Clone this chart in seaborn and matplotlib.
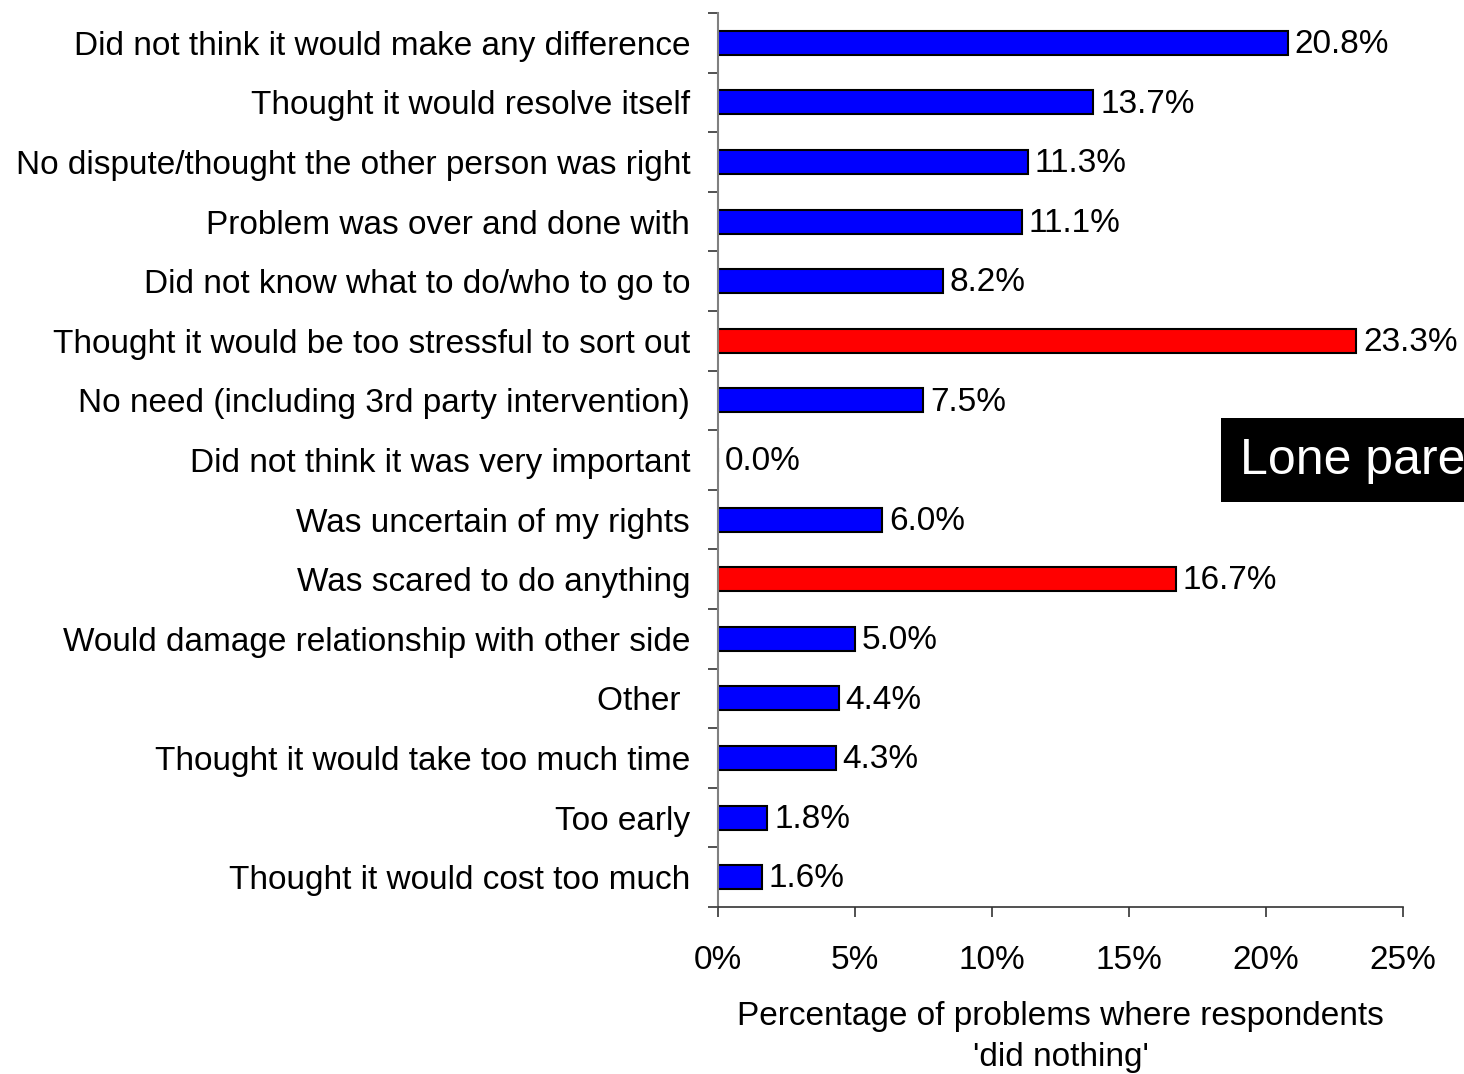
import matplotlib
matplotlib.use("Agg")
import matplotlib.pyplot as plt
import matplotlib.ticker as mticker
from matplotlib.patches import Rectangle
import numpy as np
import pandas as pd
import seaborn as sns

categories = [
    "Did not think it would make any difference",
    "Thought it would resolve itself",
    "No dispute/thought the other person was right",
    "Problem was over and done with",
    "Did not know what to do/who to go to",
    "Thought it would be too stressful to sort out",
    "No need (including 3rd party intervention)",
    "Did not think it was very important",
    "Was uncertain of my rights",
    "Was scared to do anything",
    "Would damage relationship with other side",
    "Other ",
    "Thought it would take too much time",
    "Too early",
    "Thought it would cost too much",
]
values = [20.8, 13.7, 11.3, 11.1, 8.2, 23.3, 7.5, 0.0, 6.0, 16.7, 5.0, 4.4, 4.3, 1.8, 1.6]
highlight = [False, False, False, False, False, True, False, False, False, True,
             False, False, False, False, False]
x_ticks = [0, 5, 10, 15, 20, 25]

sns.set_theme(style="white")
plt.rcParams["font.family"] = ["Liberation Sans", "DejaVu Sans"]
plt.rcParams["text.color"] = "black"
plt.rcParams["axes.labelcolor"] = "black"
plt.rcParams["xtick.color"] = "black"
plt.rcParams["ytick.color"] = "black"

df = pd.DataFrame({"reason": categories, "pct": values})
palette = {c: ("#FF0000" if h else "#0000FF") for c, h in zip(categories, highlight)}

fig = plt.figure(figsize=(14.64, 10.74), dpi=100)
ax = fig.add_axes([0.4904, 0.1555, 0.4679, 0.8324])

sns.barplot(data=df, x="pct", y="reason", hue="reason", palette=palette,
            legend=False, width=0.4, edgecolor="black", linewidth=1.5,
            saturation=1, ax=ax)

ax.set_xlim(0, 25)
ax.set_ylim(len(categories) - 0.5, -0.5)

for i, v in enumerate(values):
    ax.text(v + 0.25, i + 0.03, f"{v:.1f}%", va="center", ha="left", fontsize=24,
            color="black", clip_on=False)

ax.set_xticks(x_ticks)
ax.xaxis.set_major_formatter(mticker.FuncFormatter(lambda v, p: f"{v:.0f}%"))
ax.tick_params(axis="x", which="major", direction="out", length=7.5, width=1.2,
               color="#333333", labelsize=24, pad=20, bottom=True)

ax.set_yticks(range(len(categories)))
ax.set_yticklabels(categories)
ax.tick_params(axis="y", which="major", length=0, labelsize=24, pad=20)
ax.set_yticks(np.arange(-0.5, len(categories), 1.0), minor=True)
ax.tick_params(axis="y", which="minor", direction="out", length=7.5, width=1.2,
               color="#333333", left=True)

ax.set_ylabel("")
ax.set_xlabel("Percentage of problems where respondents\n'did nothing'",
              fontsize=24, labelpad=18, linespacing=1.4)

for s in ["top", "right"]:
    ax.spines[s].set_visible(False)
ax.spines["left"].set_color("#808080")
ax.spines["left"].set_linewidth(1.5)
ax.spines["bottom"].set_color("#333333")
ax.spines["bottom"].set_linewidth(1.2)

# black caption box running off the right edge
W, H = 1464.0, 1074.0
fig.patches.append(Rectangle((1221 / W, 1 - 502 / H), 260 / W, 84 / H,
                             transform=fig.transFigure, facecolor="black",
                             edgecolor="none", zorder=5))
fig.text(1240 / W, 1 - 461 / H, "Lone parent", fontsize=36, color="white",
         ha="left", va="center", zorder=6)

fig.savefig("out.png", dpi=100)
